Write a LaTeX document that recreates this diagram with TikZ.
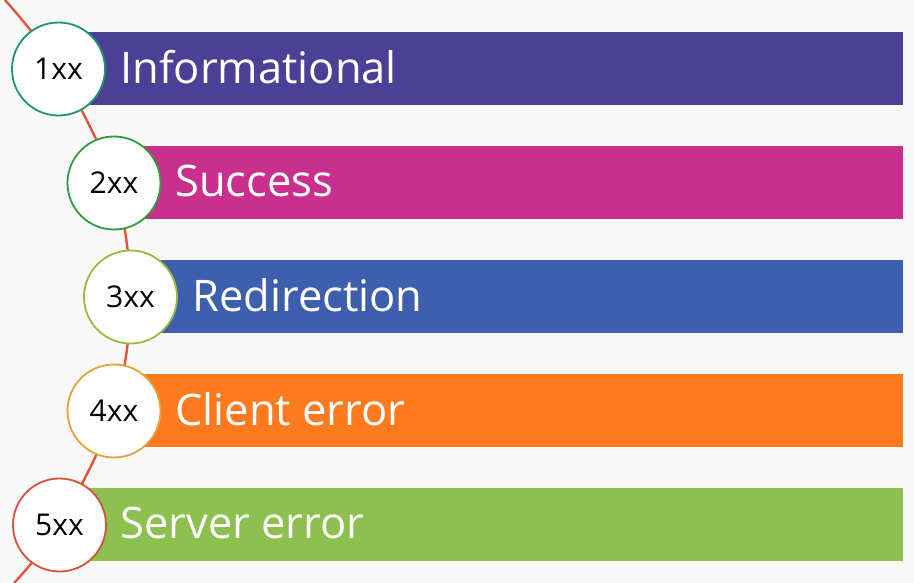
\documentclass[tikz,border=0pt]{standalone}
\usepackage{fontspec}
\setmainfont{Open Sans}
\definecolor{bgc}{HTML}{F9F9F9}
\definecolor{barA}{HTML}{4B3F96}
\definecolor{barB}{HTML}{C9308E}
\definecolor{barC}{HTML}{3E5FAD}
\definecolor{barD}{HTML}{FD7A1E}
\definecolor{barE}{HTML}{8DC04F}
\definecolor{ringA}{HTML}{1F9470}
\definecolor{ringB}{HTML}{2E9E3E}
\definecolor{ringC}{HTML}{9BB93A}
\definecolor{ringD}{HTML}{E3A33A}
\definecolor{ringE}{HTML}{D9503B}
\definecolor{curvec}{HTML}{E2553A}
\begin{document}
\begin{tikzpicture}[x=1pt,y=-1pt,
  bar/.style={fill=#1, draw=none, minimum height=73pt, inner sep=0pt, anchor=east},
  lbl/.style={anchor=west, text=white, inner sep=0pt, font=\fontsize{43.5}{50}\selectfont},
  stat/.style={circle, draw=#1, line width=1.8pt, fill=white, minimum size=93pt, inner sep=0pt, font=\fontsize{30}{34}\selectfont},
  curveline/.style={draw=curvec, line width=2.4pt}]
\fill[bgc] (0,0) rectangle (914,583);
\useasboundingbox (0,0) rectangle (914,583);
% bars
\node[bar=barA, minimum width=845pt] (b1) at (903,68.5) {};
\node[bar=barB, minimum width=790pt] (b2) at (903,182.5) {};
\node[bar=barC, minimum width=773pt] (b3) at (903,296.5) {};
\node[bar=barD, minimum width=790pt] (b4) at (903,410.5) {};
\node[bar=barE, minimum width=845pt] (b5) at (903,524.5) {};
% timeline
\coordinate (t0) at (5,0);
\coordinate (t1) at (14,583);
\coordinate (p1) at (58.5,69);
\coordinate (p2) at (114,183);
\coordinate (p3) at (130.5,297);
\coordinate (p4) at (114,411);
\coordinate (p5) at (59.5,525);
\draw[curveline] plot[smooth, tension=0.55] coordinates {(t0) (p1) (p2) (p3) (p4) (p5) (t1)};
% circles
\node[stat=ringA] (c1) at (p1) {1xx};
\node[stat=ringB] (c2) at (p2) {2xx};
\node[stat=ringC] (c3) at (p3) {3xx};
\node[stat=ringD] (c4) at (p4) {4xx};
\node[stat=ringE] (c5) at (p5) {5xx};
% labels
\node[lbl] (l1) at (120,67) {Informational};
\node[lbl] (l2) at (175,181) {Success};
\node[lbl] (l3) at (192,295) {Redirection};
\node[lbl] (l4) at (175,409) {Client error};
\node[lbl] (l5) at (120,523) {Server error};
\end{tikzpicture}
\end{document}
